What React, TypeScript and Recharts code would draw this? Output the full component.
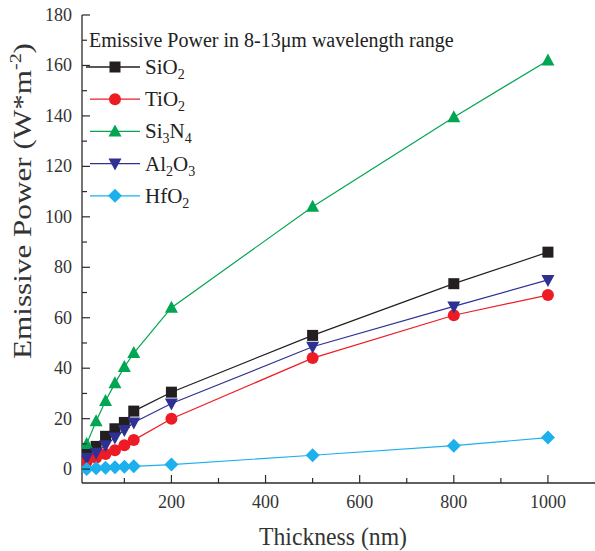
import React from 'react';
import { LineChart, Line, XAxis, YAxis, Legend } from 'recharts';

// thickness (nm) of each sample
const thickness = [20, 40, 60, 80, 100, 120, 200, 500, 800, 1000];

// emissive power in the 8-13um band (W*m^-2)
const sio2 = [6.5, 9, 13, 16, 18.5, 23, 30.5, 53, 73.5, 86];
const tio2 = [3, 4.5, 6, 7.5, 9.5, 11.5, 20, 44, 61, 69];
const si3n4 = [10, 19, 27, 34, 40.5, 46, 64, 104, 139.5, 162];
const al2o3 = [4.5, 6.5, 9.5, 12.5, 15.5, 18.5, 26, 48.5, 64.5, 75];
const hfo2 = [0, 0.3, 0.5, 0.7, 0.9, 1.1, 1.8, 5.5, 9.3, 12.5];

const xTicks = [100, 200, 300, 400, 500, 600, 700, 800, 900, 1000];
const xLabels = [200, 400, 600, 800, 1000];
const yTicks = [0, 10, 20, 30, 40, 50, 60, 70, 80, 90, 100, 110, 120, 130, 140, 150, 160, 170, 180];
const yLabels = [0, 20, 40, 60, 80, 100, 120, 140, 160, 180];

const series = [
  { key: 'sio2', label: 'SiO_2', color: '#231f20', shape: 'square' },
  { key: 'tio2', label: 'TiO_2', color: '#ed1c24', shape: 'circle' },
  { key: 'si3n4', label: 'Si_3N_4', color: '#00a651', shape: 'triangle' },
  { key: 'al2o3', label: 'Al_2O_3', color: '#2e3192', shape: 'triangleDown' },
  { key: 'hfo2', label: 'HfO_2', color: '#1cb0ec', shape: 'diamond' },
];

const data = thickness.map((t, i) => ({
  thickness: t,
  sio2: sio2[i],
  tio2: tio2[i],
  si3n4: si3n4[i],
  al2o3: al2o3[i],
  hfo2: hfo2[i],
}));

const FONT = '"Liberation Serif", "Times New Roman", serif';
const AXIS = '#2b2b2b';

const Marker = ({ shape, cx, cy, color }: any) => {
  if (cx == null || cy == null) return null;
  switch (shape) {
    case 'square':
      return <rect x={cx - 5.5} y={cy - 5.5} width={11} height={11} fill={color} />;
    case 'circle':
      return <circle cx={cx} cy={cy} r={6} fill={color} />;
    case 'triangle':
      return <polygon points={`${cx},${cy - 7} ${cx + 6.5},${cy + 5} ${cx - 6.5},${cy + 5}`} fill={color} />;
    case 'triangleDown':
      return <polygon points={`${cx},${cy + 7} ${cx + 6.5},${cy - 5} ${cx - 6.5},${cy - 5}`} fill={color} />;
    default:
      return <polygon points={`${cx},${cy - 7} ${cx + 7},${cy} ${cx},${cy + 7} ${cx - 7},${cy}`} fill={color} />;
  }
};

// "Si_3N_4" -> Si, sub 3, N, sub 4
const ChemName = ({ label }: { label: string }) => {
  const parts = label.split(/_(\d)/);
  return (
    <>
      {parts.map((p, i) =>
        i % 2 === 1 ? (
          <tspan key={i} fontSize={14} dy={5}>{p}</tspan>
        ) : p ? (
          <tspan key={i} dy={i > 0 ? -5 : 0}>{p}</tspan>
        ) : null
      )}
    </>
  );
};

const LegendBox = () => (
  <svg width={470} height={215} style={{ overflow: 'visible' }}>
    <text x={89} y={47} fontFamily={FONT} fontSize={20} fill="#222">
      Emissive Power in 8-13μm wavelength range
    </text>
    {series.map((s, i) => {
      const cy = 67 + i * 32.2;
      return (
        <g key={s.key}>
          <line x1={i === 0 ? 86 : 90} x2={140} y1={cy} y2={cy} stroke={s.color} strokeWidth={1.3} />
          <Marker shape={s.shape} cx={115} cy={cy} color={s.color} />
          <text x={145} y={cy + 7} fontFamily={FONT} fontSize={21} fill="#222">
            <ChemName label={s.label} />
          </text>
        </g>
      );
    })}
  </svg>
);

const BottomTick = ({ x, y, payload }: any) => {
  const major = xLabels.includes(payload.value);
  return (
    <g>
      <line x1={x} x2={x} y1={y} y2={y - (major ? 8 : 5)} stroke={AXIS} strokeWidth={1.2} />
      {major && (
        <text x={x} y={y + 25} textAnchor="middle" fontFamily={FONT} fontSize={18} fill="#333">
          {payload.value}
        </text>
      )}
    </g>
  );
};

const TopTick = ({ x, y, payload }: any) => {
  const major = xLabels.includes(payload.value);
  return <line x1={x} x2={x} y1={y} y2={y + (major ? 9 : 6)} stroke={AXIS} strokeWidth={1.2} />;
};

const LeftTick = ({ x, y, payload }: any) => {
  const major = yLabels.includes(payload.value);
  return (
    <g>
      <line x1={x} x2={x + (major ? 8 : 5)} y1={y} y2={y} stroke={AXIS} strokeWidth={1.2} />
      {major && (
        <text x={x - 10} y={y + 6} textAnchor="end" fontFamily={FONT} fontSize={18} fill="#333">
          {payload.value}
        </text>
      )}
    </g>
  );
};

const RightTick = ({ x, y, payload }: any) => {
  const major = yLabels.includes(payload.value);
  return <line x1={x} x2={x - (major ? 9 : 5)} y1={y} y2={y} stroke={AXIS} strokeWidth={1.2} />;
};

const XTitle = () => (
  <text x={333} y={545} textAnchor="middle" fontFamily={FONT} fontSize={25} fill="#333"
    textLength={148} lengthAdjust="spacingAndGlyphs">
    Thickness (nm)
  </text>
);

const YTitle = () => (
  <text x={0} y={0} transform="translate(31,201) rotate(-90)" textAnchor="middle" fontFamily={FONT}
    fontSize={25} fill="#333" textLength={316} lengthAdjust="spacingAndGlyphs">
    Emissive Power (W*m<tspan dy={-10} fontSize={16}>-2</tspan><tspan dy={10}>)</tspan>
  </text>
);

export default function App() {
  return (
    <div style={{ position: 'absolute', left: 0, top: 0, width: 595, height: 551, background: '#fff' }}>
      <LineChart width={595} height={551} data={data} margin={{ top: 15, right: 0, bottom: 0, left: 0 }}>
        <XAxis
          dataKey="thickness"
          type="number"
          domain={[10, 1100]}
          allowDataOverflow
          ticks={xTicks}
          interval={0}
          tickSize={0}
          tickMargin={0}
          tickLine={false}
          tick={(p: any) => <BottomTick {...p} />}
          axisLine={{ stroke: AXIS, strokeWidth: 1.3 }}
          height={68}
          label={<XTitle />}
        />
        <XAxis
          xAxisId="top"
          orientation="top"
          dataKey="thickness"
          type="number"
          domain={[10, 1100]}
          allowDataOverflow
          ticks={xTicks}
          interval={0}
          tickSize={0}
          tickMargin={0}
          tickLine={false}
          tick={(p: any) => <TopTick {...p} />}
          axisLine={{ stroke: AXIS, strokeWidth: 1.3 }}
          height={0}
        />
        <YAxis
          type="number"
          domain={[-5.5, 180]}
          allowDataOverflow
          ticks={yTicks}
          interval={0}
          tickSize={0}
          tickMargin={0}
          tickLine={false}
          tick={(p: any) => <LeftTick {...p} />}
          axisLine={{ stroke: AXIS, strokeWidth: 1.3 }}
          width={82}
          label={<YTitle />}
        />
        <YAxis
          yAxisId="right"
          orientation="right"
          type="number"
          domain={[-5.5, 180]}
          allowDataOverflow
          ticks={yTicks}
          interval={0}
          tickSize={0}
          tickMargin={0}
          tickLine={false}
          tick={(p: any) => <RightTick {...p} />}
          axisLine={false}
          width={0}
        />
        <Legend
          layout="vertical"
          align="center"
          verticalAlign="middle"
          content={() => <LegendBox />}
          wrapperStyle={{ left: 0, top: 0, width: 470, height: 215 }}
        />
        {series.map((s) => (
          <Line
            key={s.key}
            dataKey={s.key}
            stroke={s.color}
            strokeWidth={1.2}
            isAnimationActive={false}
            dot={(p: any) => <Marker key={`${s.key}-${p.index}`} shape={s.shape} cx={p.cx} cy={p.cy} color={s.color} />}
            activeDot={false}
          />
        ))}
      </LineChart>
    </div>
  );
}
